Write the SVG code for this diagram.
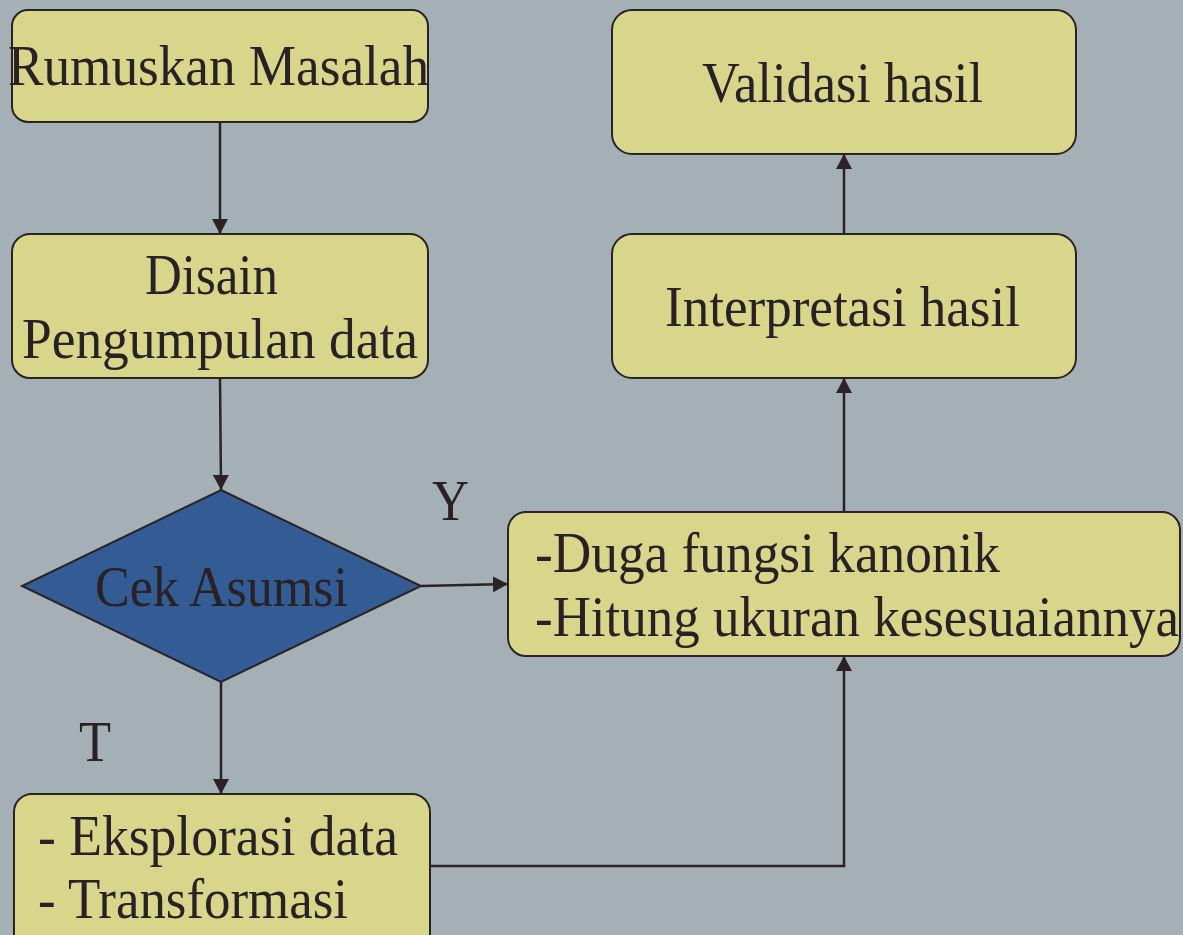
<svg xmlns="http://www.w3.org/2000/svg" width="1183" height="935" viewBox="0 0 1183 935">
<defs>
<style>
.box{fill:#d8d68a;stroke:#2a2224;stroke-width:2}
.dia{fill:#335b94;stroke:#2a2224;stroke-width:2}
.t{font-family:"Liberation Serif","Times New Roman",serif;font-size:56px;fill:#2a2125}
.c{text-anchor:middle}
.ln{fill:none;stroke:#2a2224;stroke-width:2.5}
</style>
<marker id="ah" markerUnits="userSpaceOnUse" markerWidth="16" markerHeight="16" refX="15" refY="8" orient="auto">
<path d="M0,0 L15,8 L0,16 z" fill="#2a2224"/>
</marker>
</defs>
<rect width="1183" height="935" fill="#a4b0b6"/>
<g id="connectors">
<line class="ln" x1="220" y1="122" x2="220" y2="234" marker-end="url(#ah)"/>
<line class="ln" x1="220" y1="378" x2="221" y2="490" marker-end="url(#ah)"/>
<line class="ln" x1="421" y1="586" x2="508" y2="584" marker-end="url(#ah)"/>
<line class="ln" x1="221" y1="682" x2="221" y2="794" marker-end="url(#ah)"/>
<polyline class="ln" points="430,866 844,866 844,656" marker-end="url(#ah)"/>
<line class="ln" x1="844" y1="512" x2="844" y2="378" marker-end="url(#ah)"/>
<line class="ln" x1="844" y1="234" x2="844" y2="154" marker-end="url(#ah)"/>
<text class="t" x="432" y="520" textLength="37" lengthAdjust="spacingAndGlyphs">Y</text>
<text class="t" x="79" y="761" textLength="32" lengthAdjust="spacingAndGlyphs">T</text>
</g>
<g id="rumuskan">
<rect class="box" x="12" y="10" width="416" height="112" rx="16"/>
<text class="t c" x="218.5" y="85" textLength="421" lengthAdjust="spacingAndGlyphs">Rumuskan Masalah</text>
</g>
<g id="disain">
<rect class="box" x="12" y="234" width="416" height="144" rx="18"/>
<text class="t c" x="211.5" y="294" textLength="133" lengthAdjust="spacingAndGlyphs">Disain</text>
<text class="t c" x="220" y="358" textLength="396" lengthAdjust="spacingAndGlyphs">Pengumpulan data</text>
</g>
<g id="cek">
<polygon class="dia" points="221,490 421,586 221,682 22,586"/>
<text class="t c" x="221.5" y="606" textLength="253" lengthAdjust="spacingAndGlyphs">Cek Asumsi</text>
</g>
<g id="eksplorasi">
<rect class="box" x="14" y="794" width="416" height="170" rx="18"/>
<text class="t" x="38" y="855" textLength="360" lengthAdjust="spacingAndGlyphs">- Eksplorasi data</text>
<text class="t" x="38" y="918" textLength="310" lengthAdjust="spacingAndGlyphs">- Transformasi</text>
</g>
<g id="duga">
<rect class="box" x="508" y="512" width="672" height="144" rx="18"/>
<text class="t" x="535" y="572" textLength="465" lengthAdjust="spacingAndGlyphs">-Duga fungsi kanonik</text>
<text class="t" x="535" y="636" textLength="644" lengthAdjust="spacingAndGlyphs">-Hitung ukuran kesesuaiannya</text>
</g>
<g id="interpretasi">
<rect class="box" x="612" y="234" width="464" height="144" rx="20"/>
<text class="t c" x="842.5" y="326" textLength="355" lengthAdjust="spacingAndGlyphs">Interpretasi hasil</text>
</g>
<g id="validasi">
<rect class="box" x="612" y="10" width="464" height="144" rx="20"/>
<text class="t c" x="842.5" y="102" textLength="281" lengthAdjust="spacingAndGlyphs">Validasi hasil</text>
</g>
</svg>
